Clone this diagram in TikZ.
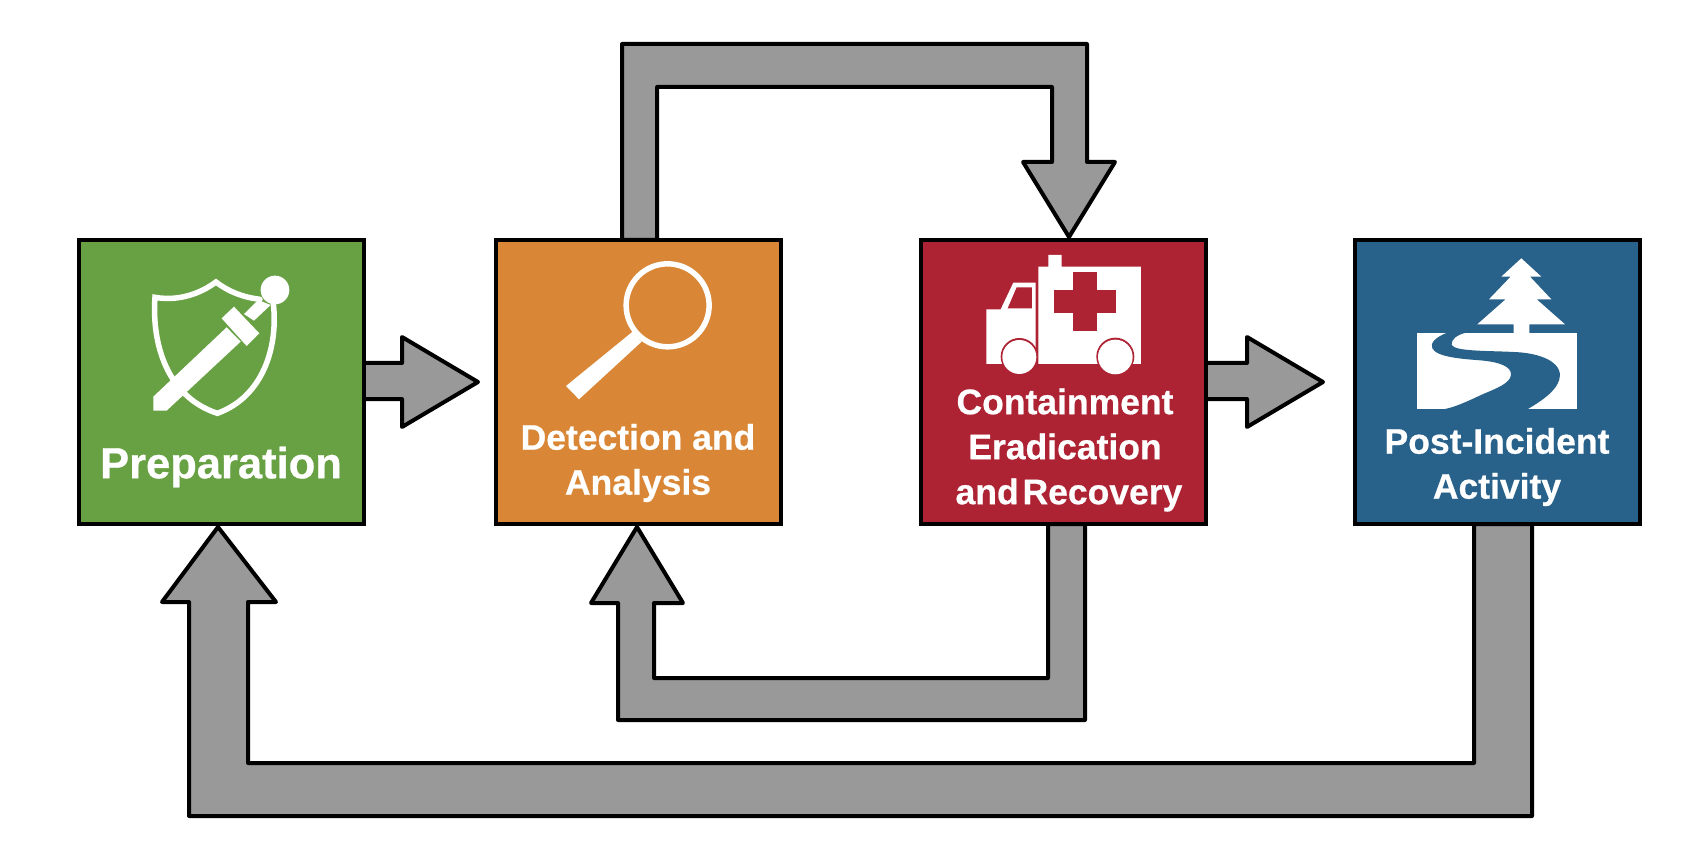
\documentclass[tikz,border=0pt]{standalone}
\usepackage{fontspec}
\setmainfont[BoldFeatures={FakeBold=0.6}]{Liberation Sans}
\definecolor{cgreen}{RGB}{104,161,68}
\definecolor{corange}{RGB}{217,135,54}
\definecolor{cred}{RGB}{173,35,51}
\definecolor{cblue}{RGB}{40,97,138}
\definecolor{cgray}{RGB}{153,153,153}
\tikzset{
  stagebox/.style={draw=black,line width=4pt,minimum width=285pt,minimum height=284pt,inner sep=0pt,outer sep=0pt},
  blockarrow/.style={draw=black,fill=cgray,line width=4pt,line join=round},
  stagelabel/.style={text=white,align=center,inner sep=0pt,font=\bfseries\fontsize{35.5}{45}\selectfont},
  iconline/.style={draw=white,line width=5.5pt,line join=miter,line cap=round}
}
\begin{document}
\begin{tikzpicture}[x=1pt,y=-1pt]
\useasboundingbox (0,0) rectangle (1706,850);
% named stage boxes are placed first (invisible) so arrows can refer to them
\path (221.5,382) node[stagebox,draw=none] (prep) {}
      (638.5,382) node[stagebox,draw=none] (det) {}
      (1063.5,382) node[stagebox,draw=none] (cont) {}
      (1497,382) node[stagebox,draw=none] (post) {};
% block arrows
\draw[blockarrow] (prep.east |- 0,363) -- (402,363) -- (402,337) -- (478,382) -- (402,427) -- (402,399) -- (prep.east |- 0,399);
\draw[blockarrow] (cont.east |- 0,363) -- (1247,363) -- (1247,337) -- (1323,382) -- (1247,427) -- (1247,399) -- (cont.east |- 0,399);
\draw[blockarrow] (622,0 |- det.north) -- (622,44) -- (1087,44) -- (1087,162) -- (1115,162) -- (1069,237) -- (1023,162) -- (1052,162) -- (1052,87) -- (657,87) -- (657,0 |- det.north) -- cycle;
\draw[blockarrow] (1085,0 |- cont.south) -- (1085,720) -- (618,720) -- (618,603) -- (591,603) -- (637,527) -- (683,603) -- (654,603) -- (654,678) -- (1048,678) -- (1048,0 |- cont.south) -- cycle;
\draw[blockarrow] (1532,0 |- post.south) -- (1532,816) -- (189,816) -- (189,602) -- (162,602) -- (218,527) -- (276,602) -- (248,602) -- (248,763) -- (1474,763) -- (1474,0 |- post.south) -- cycle;
% stage boxes
\node[stagebox,fill=cgreen] at (prep) {};
\node[stagebox,fill=corange] at (det) {};
\node[stagebox,fill=cred] at (cont) {};
\node[stagebox,fill=cblue] at (post) {};
% shield and sword
\begin{scope}[shift={(60,220)},scale=0.3333]
  \draw[iconline] (600,238) .. controls (550,232) and (505,215) .. (468,186)
     .. controls (425,218) and (360,245) .. (285,232)
     .. controls (275,370) and (320,530) .. (472,580)
     .. controls (610,530) and (655,380) .. (640,250);
  \fill[white] (280,572) -- (280,530) -- (500,322) -- (542,365) -- (320,572) -- cycle;
  \fill[white] (485,295) -- (522,260) -- (598,340) -- (560,378) -- cycle;
  \fill[white] (552,282) -- (595,240) -- (632,255) -- (582,302) -- cycle;
  \fill[white] (645,210) circle (43);
\end{scope}
% magnifier
\begin{scope}[shift={(480,220)},scale=0.3333]
  \draw[draw=white,line width=5.5pt] (563,256) circle (124.5);
  \fill[white] (458,335) -- (485,365) -- (297,538) -- (258,498) -- cycle;
\end{scope}
% ambulance
\begin{scope}[shift={(910,220)},scale=0.3333]
  \fill[white] (385,140) -- (415,140) -- (415,105) -- (455,105) -- (455,140) -- (693,140) -- (693,432) -- (385,432) -- cycle;
  \fill[white] (229,268) -- (272,268) -- (310,188) -- (377,188) -- (377,432) -- (229,432) -- cycle;
  \fill[cred] (293,265) -- (320,202) -- (366,202) -- (366,265) -- cycle;
  \fill[cred] (489,155) rectangle (561,333);
  \fill[cred] (433,210) rectangle (617,280);
  \fill[cred] (328,410) circle (56);
  \fill[cred] (616,410) circle (57);
  \fill[white] (328,411) circle (51);
  \fill[white] (616,411) circle (52);
\end{scope}
% tree and river
\begin{scope}[shift={(1340,220)},scale=0.3333]
  \fill[white] (544,115) -- (604,170) -- (570,170) -- (634,238) -- (590,238) -- (675,313) -- (568,313) -- (568,340) -- (521,340) -- (521,313) -- (412,313) -- (497,238) -- (447,238) -- (512,170) -- (484,170) -- cycle;
  \fill[white] (230,338) rectangle (710,568);
  \fill[cblue] (322,338) .. controls (285,352) and (270,370) .. (277,385)
     .. controls (290,412) and (370,417) .. (420,421)
     .. controls (480,426) and (515,440) .. (513,465)
     .. controls (510,490) and (470,505) .. (430,522)
     .. controls (380,545) and (345,562) .. (310,568)
     -- (562,568) .. controls (610,540) and (660,505) .. (660,465)
     .. controls (658,420) and (590,398) .. (520,396)
     .. controls (450,392) and (345,395) .. (335,375)
     .. controls (333,358) and (350,345) .. (378,338) -- cycle;
\end{scope}
% labels
\node[stagelabel,font=\bfseries\fontsize{43.5}{50}\selectfont] (lprep) at (221,467) {Preparation};
\node[stagelabel] (ldet) at (638,463) {Detection and\\Analysis};
\node[stagelabel] (lcont) at (1065,450) {Containment\\Eradication\\\hspace*{8pt}and\kern-6pt{} Recovery};
\node[stagelabel] (lpost) at (1497,467) {Post-Incident\\Activity};
\end{tikzpicture}
\end{document}
